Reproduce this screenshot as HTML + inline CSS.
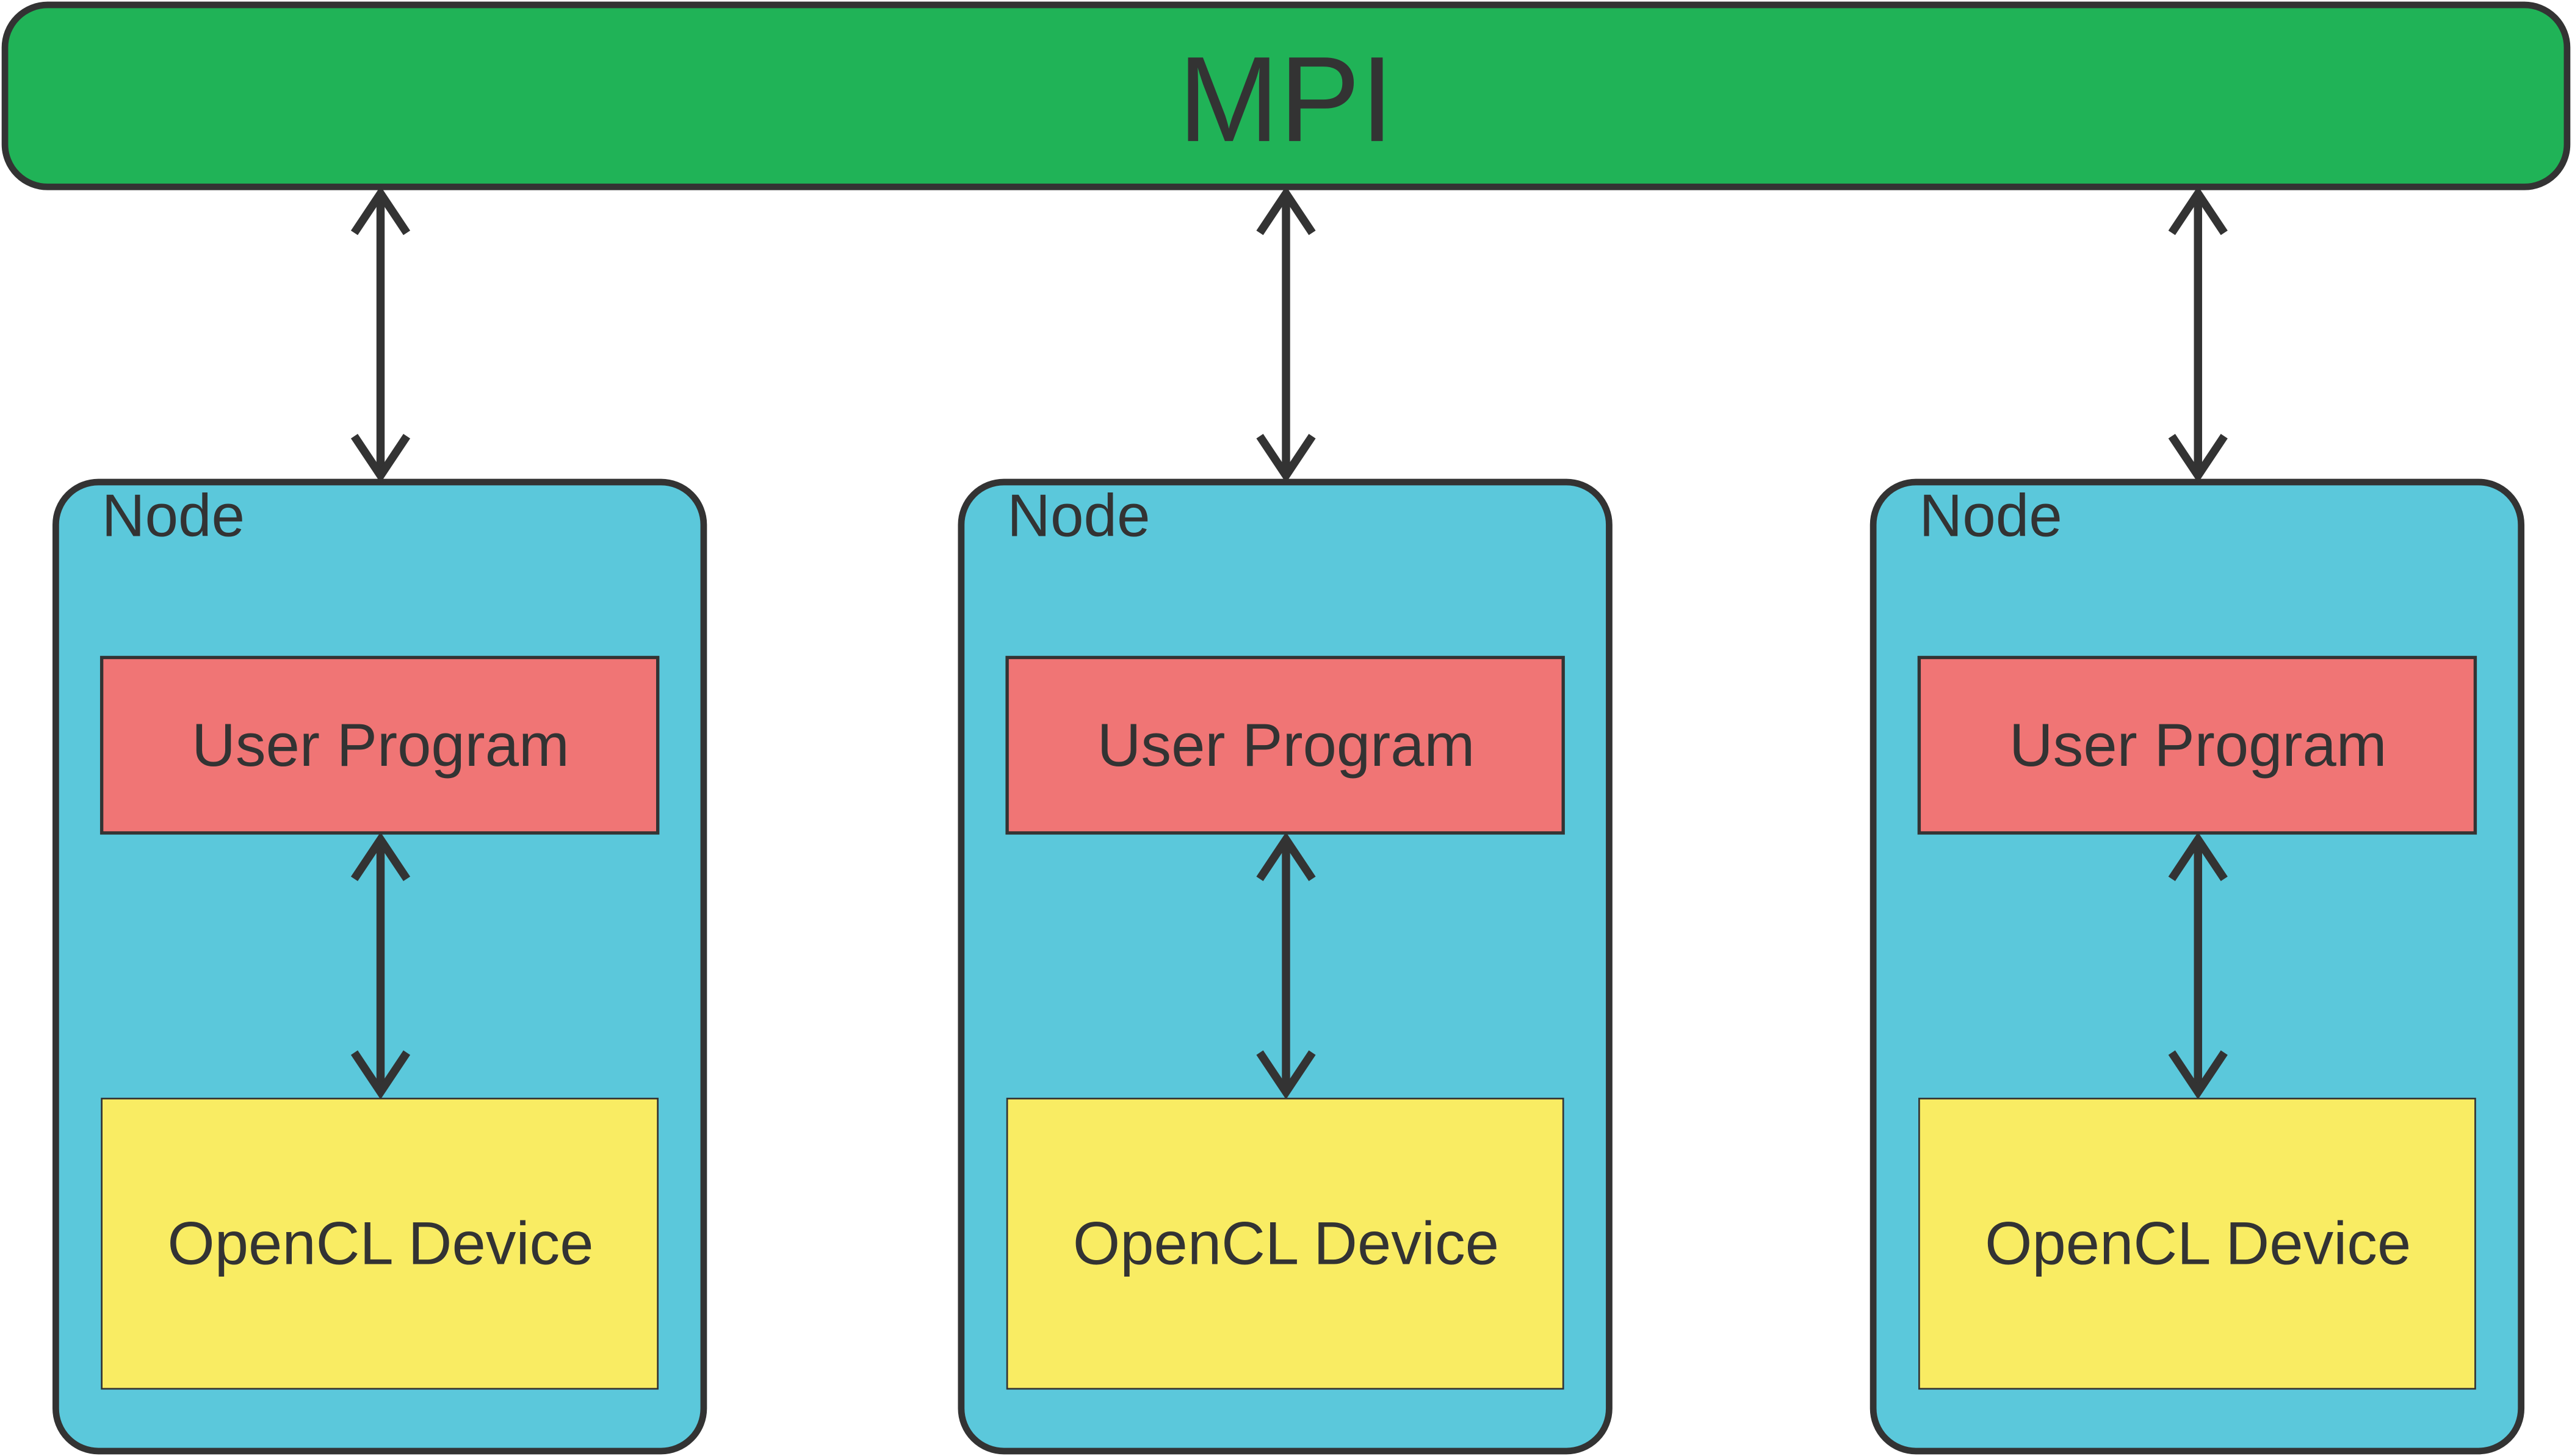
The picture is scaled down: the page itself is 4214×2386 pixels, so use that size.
<!DOCTYPE html>
<html><head><meta charset="utf-8"><style>html,body{margin:0;padding:0;background:#fff}svg{display:block}</style></head>
<body>
<svg width="4214" height="2386" viewBox="0 0 1568 888" preserveAspectRatio="none" xmlns="http://www.w3.org/2000/svg" font-family="Liberation Sans, sans-serif">
<rect x="3" y="3" width="1562" height="111" rx="26" fill="#20b357" stroke="#333" stroke-width="4"/>
<text x="784" y="86" font-size="74" text-anchor="middle" fill="#333">MPI</text>
<g id="n">
<rect x="34" y="294" width="395" height="591" rx="26" fill="#5bc8db" stroke="#333" stroke-width="4"/>
<text x="62" y="327" font-size="36.5" fill="#333">Node</text>
<rect x="62" y="401" width="339" height="107" fill="#f07575" stroke="#333" stroke-width="2"/>
<text x="232" y="467" font-size="37" text-anchor="middle" fill="#333">User Program</text>
<rect x="62" y="670" width="339" height="177" fill="#f9ec63" stroke="#333" stroke-width="1"/>
<text x="232" y="771" font-size="37" text-anchor="middle" fill="#333">OpenCL Device</text>
<g stroke="#333" stroke-width="5" fill="none">
<line x1="232" y1="118" x2="232" y2="290"/>
<polyline points="216,142 232,118 248,142"/>
<polyline points="216,266 232,290 248,266"/>
<line x1="232" y1="512" x2="232" y2="666"/>
<polyline points="216,536 232,512 248,536"/>
<polyline points="216,642 232,666 248,642"/>
</g>
</g>
<use href="#n" x="552"/>
<use href="#n" x="1108"/>
</svg>
</body></html>
